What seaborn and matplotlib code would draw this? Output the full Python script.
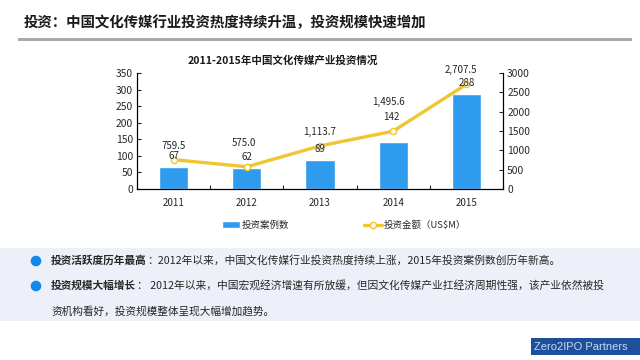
import matplotlib
matplotlib.use("Agg")
import matplotlib.pyplot as plt
import seaborn as sns
import pandas as pd
from matplotlib.patches import Rectangle, Circle

years = ["2011", "2012", "2013", "2014", "2015"]
cases = [67, 62, 89, 142, 288]
amount = [759.5, 575.0, 1113.7, 1495.6, 2707.5]
amount_labels = ["759.5", "575.0", "1,113.7", "1,495.6", "2,707.5"]
left_ticks = [0, 50, 100, 150, 200, 250, 300, 350]
right_ticks = [0, 500, 1000, 1500, 2000, 2500, 3000]

page_title = "投资\uff1a中国文化传媒行业投资热度持续升温\uff0c投资规模快速增加"
chart_title = "2011-2015年中国文化传媒产业投资情况"
bar_name = "投资案例数"
line_name = "投资金额\uff08US$M\uff09"
bullet1_head = "投资活跃度历年最高"
bullet1_body = "\uff1a2012年以来\uff0c中国文化传媒行业投资热度持续上涨\uff0c2015年投资案例数创历年新高\u3002"
bullet2_head = "投资规模大幅增长"
bullet2_body = "\uff1a 2012年以来\uff0c中国宏观经济增速有所放缓\uff0c但因文化传媒产业扛经济周期性强\uff0c该产业依然被投"
bullet2_more = "资机构看好\uff0c投资规模整体呈现大幅增加趋势\u3002"
logo_text = "Zero2IPO Partners"

sns.set_theme(style="white")
plt.rcParams["font.family"] = ["Noto Sans CJK SC", "DejaVu Sans"]

W, H = 640, 360
BAR_COLOR = "#2F9BEE"
LINE_COLOR = "#EFC531"
TEXT = "#262626"

fig = plt.figure(figsize=(6.4, 3.6), dpi=100, facecolor="white")


# page coordinates are in pixels from the top left corner
def page_text(x, y, s, **kw):
    kw.setdefault("va", "center")
    kw.setdefault("color", TEXT)
    return fig.text(x / W, 1 - y / H, s, **kw)


def page_rect(x0, y0, x1, y1, color):
    fig.add_artist(Rectangle((x0 / W, 1 - y1 / H), (x1 - x0) / W, (y1 - y0) / H,
                             transform=fig.transFigure, color=color, lw=0))


# chart
ax = fig.add_axes([137 / W, 1 - 189 / H, 366 / W, 116 / H])
df = pd.DataFrame({"year": years, "cases": cases, "amount": amount})
sns.barplot(data=df, x="year", y="cases", color=BAR_COLOR, width=0.4, saturation=1,
            ax=ax, label=bar_name, legend=False)
ax.set_xlim(-0.5, 4.5)
ax.set_ylim(0, 350)
ax.set_yticks(left_ticks)
ax.set_xlabel("")
ax.set_ylabel("")

ax2 = ax.twinx()
sns.lineplot(data=df, x="year", y="amount", color=LINE_COLOR, linewidth=2.4, marker="o",
             markersize=4.5, markerfacecolor="#FFFBEA", markeredgecolor=LINE_COLOR,
             markeredgewidth=1, ax=ax2, label=line_name, legend=False, sort=False)
ax2.set_ylim(0, 3000)
ax2.set_yticks(right_ticks)
ax2.set_ylabel("")
ax2.grid(False)
ax.grid(False)

for a in (ax, ax2):
    for s in a.spines.values():
        s.set_visible(True)
        s.set_color("black")
        s.set_linewidth(0.8)
    a.spines["top"].set_visible(False)
    a.tick_params(axis="y", direction="in", length=3, width=0.8, labelsize=7.4,
                  labelcolor=TEXT, pad=3, left=a is ax, right=a is ax2)
ax.set_xticks([i + 0.5 for i in range(-1, 5)], minor=True)
ax.tick_params(axis="x", which="minor", direction="in", length=3, width=0.8, bottom=True)
ax.tick_params(axis="x", which="major", bottom=False, labelsize=7, labelcolor=TEXT, pad=0.5)

# value labels, offsets in points from the mark
# all drawn on ax2 so they sit on top of the line
case_off = [(0, 7.8), (0, 8.3), (0, 7.5), (-1.5, 18), (0, 7.5)]
amount_off = [(0, 9.8), (-2, 17), (0, 10), (-3.6, 21), (-3.6, 10)]
for i in range(len(years)):
    ax2.annotate(str(cases[i]), (i, cases[i]), xycoords=ax.transData, xytext=case_off[i],
                 textcoords="offset points", ha="center", va="center", fontsize=7, color=TEXT)
    ax2.annotate(amount_labels[i], (i, amount[i]), xytext=amount_off[i], textcoords="offset points",
                 ha="center", va="center", fontsize=7, color=TEXT)

h1, l1 = ax.get_legend_handles_labels()
h2, l2 = ax2.get_legend_handles_labels()
fig.legend(h1 + h2, l1 + l2, loc="center", bbox_to_anchor=(344 / W, 1 - 225 / H), ncols=2,
           frameon=False, fontsize=6.8, columnspacing=7.9, handlelength=1.9, handletextpad=0.2,
           labelcolor=TEXT)

# page furniture
page_text(24, 23, page_title, fontsize=10.4, fontweight="bold", color="#1A1A1A")
page_rect(18, 38, 632, 41, "#A9A9A9")
page_text(283, 61, chart_title, fontsize=7.6, fontweight="bold", ha="center", color="#1A1A1A")

page_rect(0, 248, 640, 321, "#EEF0F9")
for y in (261, 286):
    fig.add_artist(Circle((36 / 100, (H - y) / 100), 0.053, transform=fig.dpi_scale_trans,
                          color="#1487EA", lw=0))
page_text(51, 260, bullet1_head, fontsize=7.7, fontweight="bold")
page_text(147, 260, bullet1_body, fontsize=7.72)
page_text(51, 285.5, bullet2_head, fontsize=7.7, fontweight="bold")
page_text(137, 285.5, bullet2_body, fontsize=7.75)
page_text(51, 311, bullet2_more, fontsize=7.7)

page_rect(531, 338, 640, 355, "#1D4F9C")
page_text(534, 347, logo_text, fontsize=8, color="#C9D9F2", family="Liberation Sans")

fig.savefig("out.png", dpi=100)
